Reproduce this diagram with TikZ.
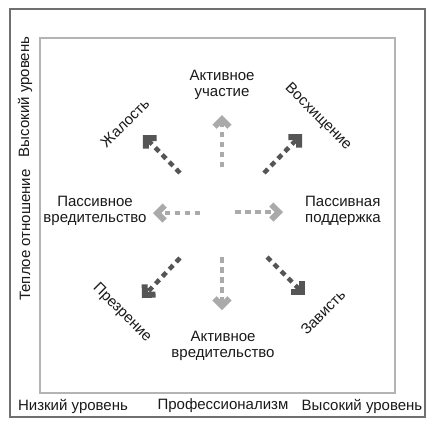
\documentclass[tikz,border=0pt]{standalone}
\usepackage{fontspec}
\setmainfont{Liberation Sans}
\usetikzlibrary{arrows.meta}
\definecolor{lightarr}{HTML}{AAAAAA}
\definecolor{darkarr}{HTML}{555555}
\definecolor{outerframe}{HTML}{707070}
\definecolor{innerframe}{HTML}{B4B4B4}
\definecolor{txt}{HTML}{1A1A1A}
\tikzset{
  lbl/.style={font=\fontsize{15}{15.5}\selectfont, text=txt, align=center, inner sep=0pt},
  arr/.style={line width=4.5pt, dash pattern=on 5.5pt off 4.5pt,
    -{Straight Barb[length=7.5pt,width=15pt,line width=6pt]}},
  lightarrow/.style={arr, draw=lightarr},
  darkarrow/.style={arr, draw=darkarr},
}
\begin{document}
\begin{tikzpicture}[x=1pt,y=-1pt]
\useasboundingbox (0,0) rectangle (434,426);
\fill[white] (0,0) rectangle (434,426);
\draw[outerframe, line width=1.6pt] (10,9) rectangle (425,417);
\draw[innerframe, line width=2pt] (40,38) rectangle (395,393);

% axis labels
\node[lbl, rotate=90] (hiwarm) at (25,97) {Высокий уровень};
\node[lbl, rotate=90] (warm) at (25,235) {Теплое отношение};
\node[lbl] (lowprof) at (73,406) {Низкий уровень};
\node[lbl] (prof) at (223,406) {Профессионализм};
\node[lbl] (hiprof) at (362,406) {Высокий уровень};

% direction labels
\node[lbl] (actpart) at (222,85) {Активное\\участие};
\node[lbl] (passharm) at (95,211) {Пассивное\\вредительство};
\node[lbl, align=left] (passsup) at (343,211) {Пассивная\\поддержка};
\node[lbl] (actharm) at (223,346) {Активное\\вредительство};
\node[lbl, rotate=45] (pity) at (125,123) {Жалость};
\node[lbl, rotate=-45] (admire) at (318,117) {Восхищение};
\node[lbl, rotate=-45] (contempt) at (122,313) {Презрение};
\node[lbl, rotate=45] (envy) at (323,312) {Зависть};

% arrow end points
\coordinate (us) at (222,167); \coordinate (ut) at (222,115);
\coordinate (ds) at (222,257); \coordinate (dt) at (222,310);
\coordinate (ls) at (200,213); \coordinate (lt) at (153,213);
\coordinate (rs) at (235,212); \coordinate (rt) at (283,212);
\coordinate (uls) at (180,173); \coordinate (ult) at (143,135);
\coordinate (urs) at (264,173); \coordinate (urt) at (302,134);
\coordinate (dls) at (180,258); \coordinate (dlt) at (142,298);
\coordinate (drs) at (267,257); \coordinate (drt) at (305,295);

\draw[lightarrow] (us) -- (ut);
\draw[lightarrow] (ds) -- (dt);
\draw[lightarrow] (ls) -- (lt);
\draw[lightarrow] (rs) -- (rt);
\draw[darkarrow] (uls) -- (ult);
\draw[darkarrow] (urs) -- (urt);
\draw[darkarrow] (dls) -- (dlt);
\draw[darkarrow] (drs) -- (drt);
\end{tikzpicture}
\end{document}
